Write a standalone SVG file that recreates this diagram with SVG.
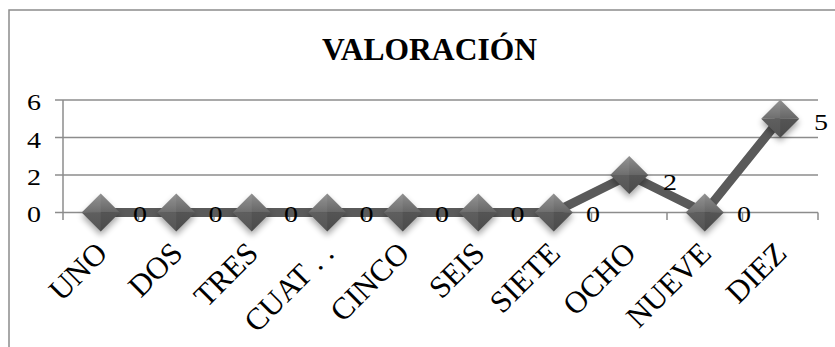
<svg xmlns="http://www.w3.org/2000/svg" width="835" height="347" viewBox="0 0 835 347">
<style>
.frame{fill:#fff;stroke:#8c8c8c;stroke-width:1.5}
.grid{stroke:#8c8c8c;stroke-width:1.5;fill:none}
.axis{stroke:#8c8c8c;stroke-width:1.5;fill:none}
text{font-family:'Liberation Serif','DejaVu Serif',serif;fill:#000}
.num{font-size:24px;text-anchor:middle}
.cat{font-size:31px;text-anchor:end}
.title{font-size:32px;font-weight:bold}
.series{stroke:#5a5a5a;stroke-width:9;fill:none;stroke-linejoin:round}
</style>
<defs>
<linearGradient id="gTop" x1="0" y1="0" x2="0" y2="1">
<stop offset="0" stop-color="#8e8e8e"/>
<stop offset="1" stop-color="#666"/>
</linearGradient>
<linearGradient id="gBot" x1="0" y1="0" x2="0" y2="1">
<stop offset="0" stop-color="#555"/>
<stop offset="1" stop-color="#4a4a4a"/>
</linearGradient>
<filter id="sh" x="-50%" y="-50%" width="200%" height="200%">
<feGaussianBlur stdDeviation="3"/>
</filter>
<g id="mk">
<polygon points="0,-15 19,4 0,23 -19,4" fill="#000" opacity="0.35" filter="url(#sh)"/>
<polygon points="-19,0 0,-19 19,0" fill="url(#gTop)"/>
<polygon points="-19,0 0,19 19,0" fill="url(#gBot)"/>
<polygon points="-19,0 0,-19 0,19" fill="#fff" opacity="0.06"/>
</g>
</defs>
<rect class="frame" x="9" y="10" width="900" height="400"/>
<g id="title"><text class="title" x="322" y="60" textLength="215" lengthAdjust="spacingAndGlyphs">VALORACIÓN</text></g>
<g id="gridlines">
<line class="grid" x1="55" y1="100" x2="818" y2="100"/>
<line class="grid" x1="55" y1="137.5" x2="818" y2="137.5"/>
<line class="grid" x1="55" y1="175" x2="818" y2="175"/>
</g>
<g id="axes">
<line class="axis" x1="63" y1="100" x2="63" y2="212.5"/>
<line class="axis" x1="55" y1="212.5" x2="818" y2="212.5"/>
<path class="axis" d="M63,212.5V220 M138.5,212.5V220 M214,212.5V220 M289.5,212.5V220 M365,212.5V220 M440.5,212.5V220 M516,212.5V220 M591.5,212.5V220 M667,212.5V220 M742.5,212.5V220 M818,212.5V220"/>
</g>
<g id="yLabels">
<text class="num" x="34" y="110" textLength="14" lengthAdjust="spacingAndGlyphs">6</text>
<text class="num" x="34" y="147.5" textLength="14" lengthAdjust="spacingAndGlyphs">4</text>
<text class="num" x="34" y="185" textLength="14" lengthAdjust="spacingAndGlyphs">2</text>
<text class="num" x="34" y="222" textLength="14" lengthAdjust="spacingAndGlyphs">0</text>
</g>
<g id="connectors">
<polyline class="series" points="100.75,212.5 176.25,212.5 251.75,212.5 327.25,212.5 402.75,212.5 478.25,212.5 553.75,212.5 629.25,175 704.75,212.5 780.25,118.75"/>
</g>
<g id="p1"><use href="#mk" x="100.75" y="212.5"/><text class="num" x="140" y="222" textLength="14" lengthAdjust="spacingAndGlyphs">0</text></g>
<g id="p2"><use href="#mk" x="176.25" y="212.5"/><text class="num" x="215.5" y="222" textLength="14" lengthAdjust="spacingAndGlyphs">0</text></g>
<g id="p3"><use href="#mk" x="251.75" y="212.5"/><text class="num" x="291" y="222" textLength="14" lengthAdjust="spacingAndGlyphs">0</text></g>
<g id="p4"><use href="#mk" x="327.25" y="212.5"/><text class="num" x="366.5" y="222" textLength="14" lengthAdjust="spacingAndGlyphs">0</text></g>
<g id="p5"><use href="#mk" x="402.75" y="212.5"/><text class="num" x="442" y="222" textLength="14" lengthAdjust="spacingAndGlyphs">0</text></g>
<g id="p6"><use href="#mk" x="478.25" y="212.5"/><text class="num" x="517.5" y="222" textLength="14" lengthAdjust="spacingAndGlyphs">0</text></g>
<g id="p7"><use href="#mk" x="553.75" y="212.5"/><text class="num" x="593" y="222" textLength="14" lengthAdjust="spacingAndGlyphs">0</text></g>
<g id="p8"><use href="#mk" x="629.25" y="175"/><text class="num" x="670" y="189.5" textLength="14" lengthAdjust="spacingAndGlyphs">2</text></g>
<g id="p9"><use href="#mk" x="704.75" y="212.5"/><text class="num" x="744" y="222" textLength="14" lengthAdjust="spacingAndGlyphs">0</text></g>
<g id="p10"><use href="#mk" x="780.25" y="118.75"/><text class="num" x="821" y="129.5" textLength="14" lengthAdjust="spacingAndGlyphs">5</text></g>
<g id="categories">
<text class="cat" transform="translate(109,255) rotate(-45)">UNO</text>
<text class="cat" transform="translate(184.5,255) rotate(-45)">DOS</text>
<text class="cat" transform="translate(260,255) rotate(-45)">TRES</text>
<text class="cat" transform="translate(335.5,255) rotate(-45)">CUAT . .</text>
<text class="cat" transform="translate(411,255) rotate(-45)">CINCO</text>
<text class="cat" transform="translate(486.5,255) rotate(-45)">SEIS</text>
<text class="cat" transform="translate(562,255) rotate(-45)">SIETE</text>
<text class="cat" transform="translate(637.5,255) rotate(-45)">OCHO</text>
<text class="cat" transform="translate(713,255) rotate(-45)">NUEVE</text>
<text class="cat" transform="translate(788.5,255) rotate(-45)">DIEZ</text>
</g>
</svg>
